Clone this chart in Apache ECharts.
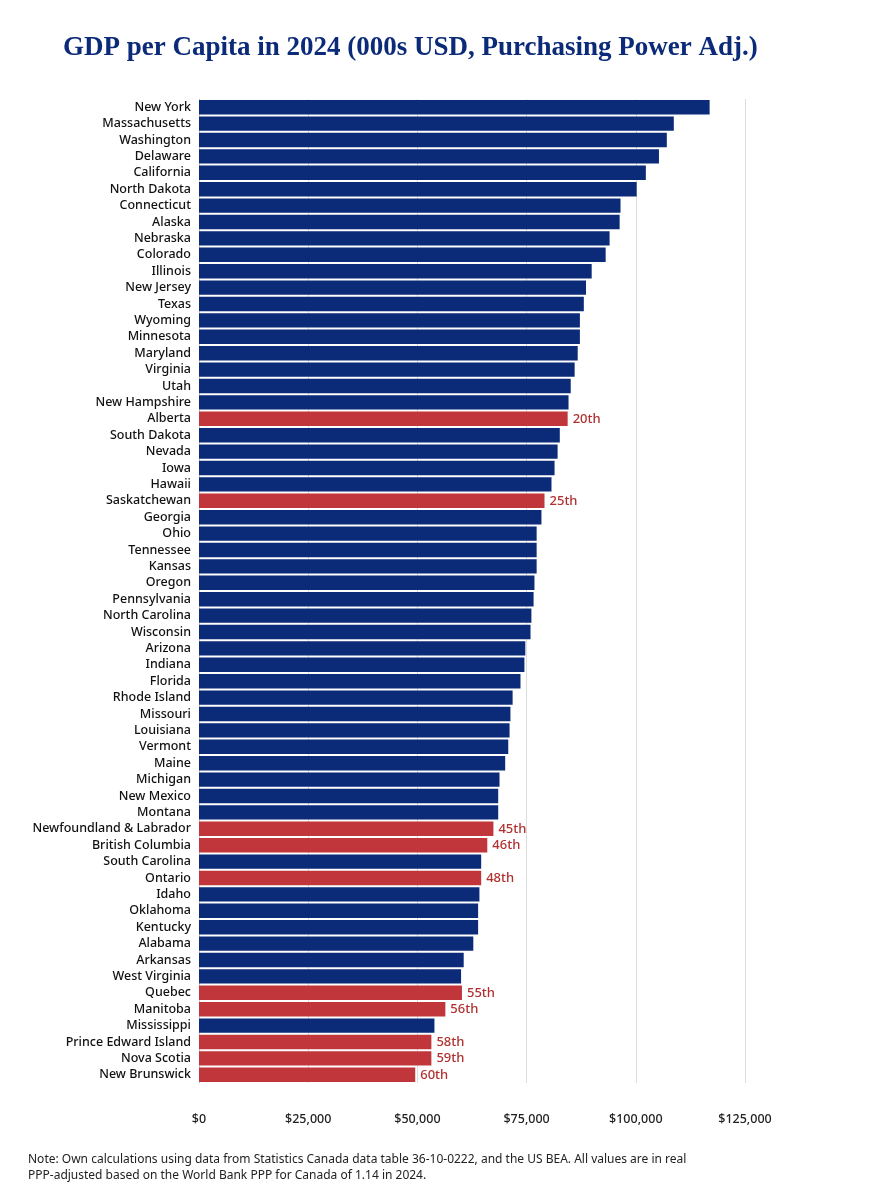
<!DOCTYPE html><html><head><meta charset="utf-8"><script src="https://cdn.jsdelivr.net/npm/echarts@6/dist/echarts.min.js"></script>
<style>body{margin:0;background:#fff}#c{width:889px;height:1200px}</style></head><body><div id="c"></div><script>
const categories=["New York","Massachusetts","Washington","Delaware","California","North Dakota","Connecticut","Alaska","Nebraska","Colorado","Illinois","New Jersey","Texas","Wyoming","Minnesota","Maryland","Virginia","Utah","New Hampshire","Alberta","South Dakota","Nevada","Iowa","Hawaii","Saskatchewan","Georgia","Ohio","Tennessee","Kansas","Oregon","Pennsylvania","North Carolina","Wisconsin","Arizona","Indiana","Florida","Rhode Island","Missouri","Louisiana","Vermont","Maine","Michigan","New Mexico","Montana","Newfoundland & Labrador","British Columbia","South Carolina","Ontario","Idaho","Oklahoma","Kentucky","Alabama","Arkansas","West Virginia","Quebec","Manitoba","Mississippi","Prince Edward Island","Nova Scotia","New Brunswick"];
const values=[116.9,108.7,107.1,105.3,102.3,100.2,96.5,96.3,94.0,93.1,89.9,88.6,88.1,87.2,87.2,86.7,86.0,85.1,84.6,84.4,82.6,82.1,81.4,80.7,79.1,78.4,77.3,77.3,77.3,76.8,76.6,76.1,75.9,74.7,74.5,73.6,71.8,71.3,71.1,70.8,70.1,68.8,68.5,68.5,67.4,66.0,64.6,64.6,64.2,63.9,63.9,62.8,60.6,60.0,60.2,56.4,53.9,53.2,53.2,49.5];
const canadian=["Alberta","Saskatchewan","Newfoundland & Labrador","British Columbia","Ontario","Quebec","Manitoba","Prince Edward Island","Nova Scotia","New Brunswick"];
const rankLabels={"Alberta":"20th","Saskatchewan":"25th","Newfoundland & Labrador":"45th","British Columbia":"46th","Ontario":"48th","Quebec":"55th","Manitoba":"56th","Prince Edward Island":"58th","Nova Scotia":"59th","New Brunswick":"60th"};
const xTicks=[0,25000,50000,75000,100000,125000];
const data=categories.map((c,i)=>{const ca=canadian.includes(c);return {value:values[i]*1000,itemStyle:{color:ca?'#c0363a':'#0b2a78'},label:{show:ca,formatter:rankLabels[c]||''}};});
const ch=echarts.init(document.getElementById('c'));
ch.setOption({animation:false,
title:{text:'GDP per Capita in 2024 (000s USD, Purchasing Power Adj.)',left:58,top:30,textStyle:{fontFamily:'Liberation Serif',fontWeight:'bold',fontSize:27,color:'#0b2a78'}},
graphic:[{type:'text',left:28,top:1152,style:{text:'Note: Own calculations using data from Statistics Canada data table 36-10-0222, and the US BEA. All values are in real\nPPP-adjusted based on the World Bank PPP for Canada of 1.14 in 2024.',font:'12px "Noto Sans"',fill:'#222',lineHeight:16}}],
grid:{left:199,right:144,top:99,bottom:117},
xAxis:{type:'value',min:0,max:125000,interval:25000,axisLabel:{formatter:v=>'$'+v.toLocaleString('en-US'),fontFamily:'Noto Sans',fontSize:12.5,fontWeight:500,color:'#222',margin:30},splitLine:{lineStyle:{color:'#ddd'}},axisLine:{show:false},axisTick:{show:false}},
yAxis:{type:'category',inverse:true,data:categories,axisLabel:{interval:0,fontFamily:'Noto Sans',fontSize:12.5,fontWeight:500,color:'#111',margin:8},axisLine:{show:true,lineStyle:{color:'#ccc'}},axisTick:{show:false}},
series:[{type:'bar',data:data,barCategoryGap:'12%',label:{position:'right',distance:5,color:'#b0302f',fontFamily:'Noto Sans',fontSize:13,fontWeight:500}}]});
</script></body></html>
